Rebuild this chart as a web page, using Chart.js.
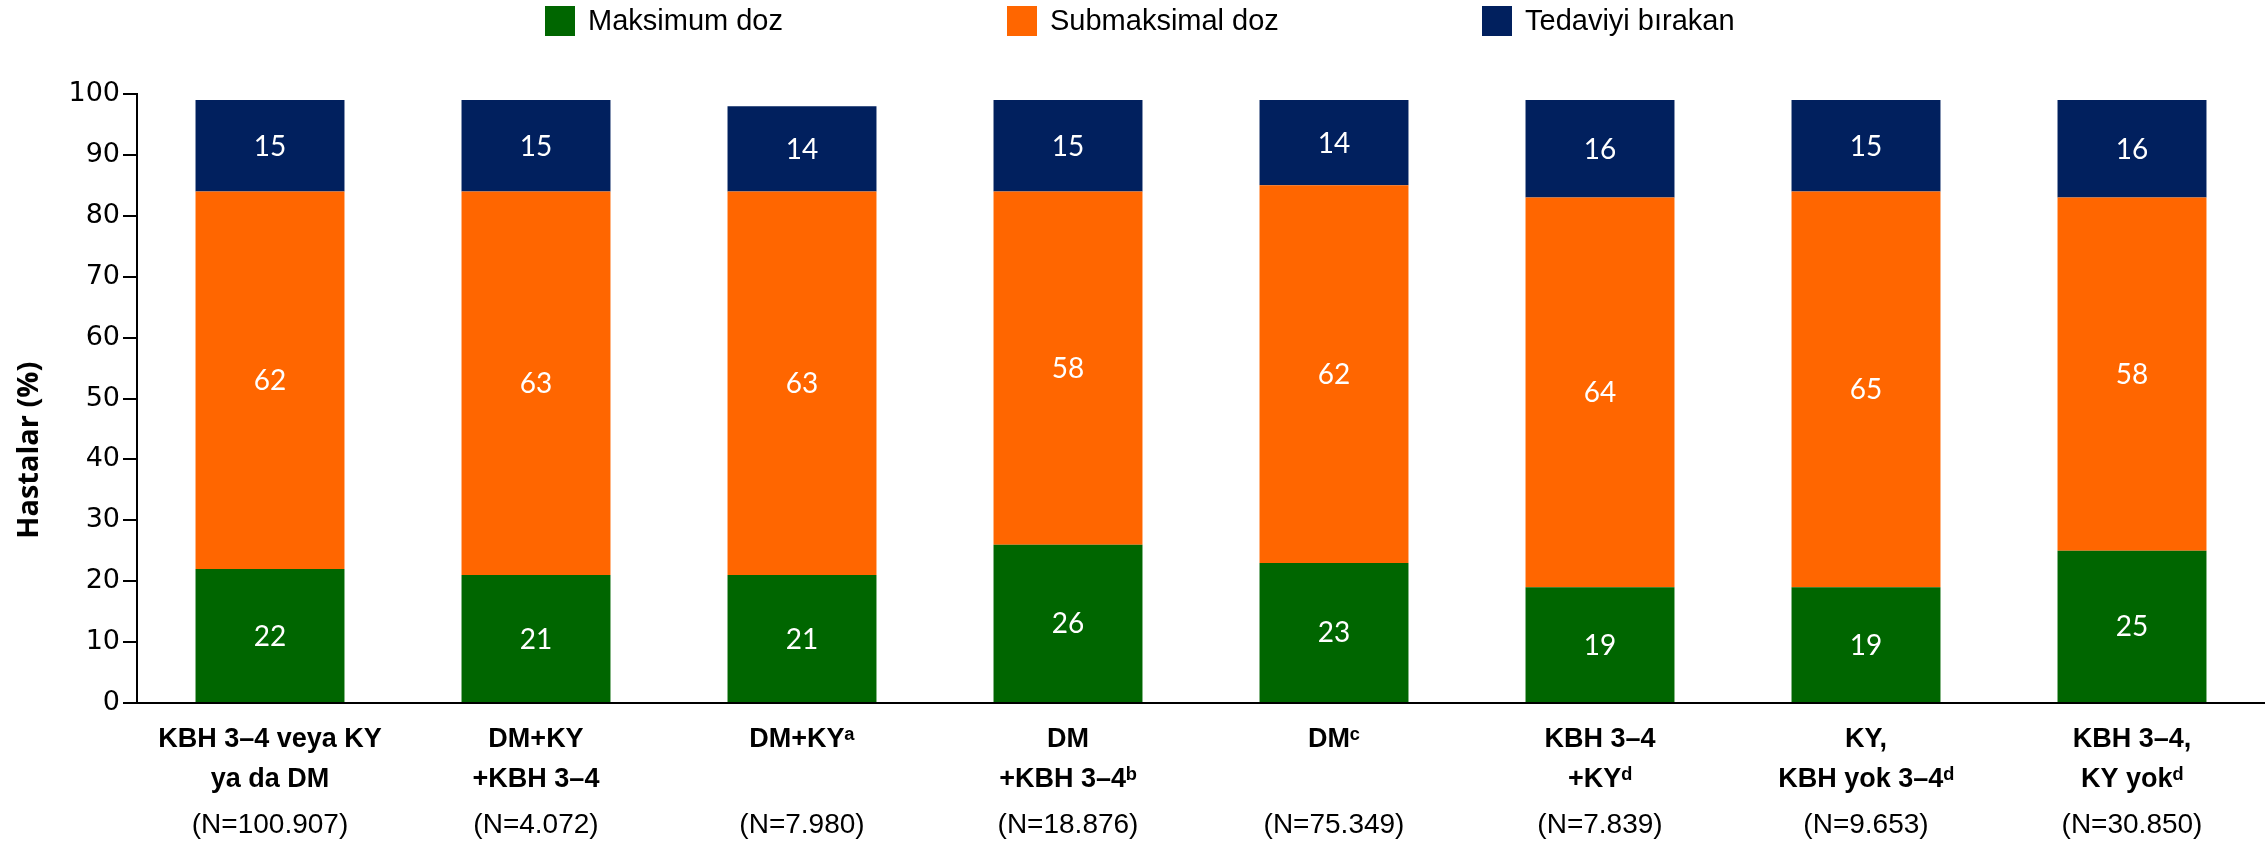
<!DOCTYPE html>
<html>
<head>
<meta charset="utf-8">
<style>
  html, body { margin: 0; padding: 0; background: #ffffff; }
  #wrap { width: 2265px; height: 845px; }
</style>
<script src="https://cdn.jsdelivr.net/npm/chart.js@4.4.1/dist/chart.umd.min.js"></script>
</head>
<body>
<div id="wrap"><canvas id="chart" width="2265" height="845"></canvas></div>
<script>
// Patient groups (x axis), bold lines
const categories = [
  ['KBH 3–4 veya KY', 'ya da DM'],
  ['DM+KY', '+KBH 3–4'],
  ['DM+KYᵃ'],
  ['DM', '+KBH 3–4ᵇ'],
  ['DMᶜ'],
  ['KBH 3–4', '+KYᵈ'],
  ['KY,', 'KBH yok 3–4ᵈ'],
  ['KBH 3–4,', 'KY yokᵈ']
];
// Group sizes shown under each group
const sampleSizes = ['(N=100.907)', '(N=4.072)', '(N=7.980)', '(N=18.876)',
                     '(N=75.349)', '(N=7.839)', '(N=9.653)', '(N=30.850)'];

// Share of patients (%) per dose category
const maxDose      = [22, 21, 21, 26, 23, 19, 19, 25];
const submaxDose   = [62, 63, 63, 58, 62, 64, 65, 58];
const discontinued = [15, 15, 14, 15, 14, 16, 15, 16];

const seriesNames  = ['Maksimum doz', 'Submaksimal doz', 'Tedaviyi bırakan'];
const seriesColors = ['#006600', '#FF6600', '#01205E'];

const yMin = 0, yMax = 100, yStep = 10;
const yTitle = 'Hastalar (%)';

const SANS = "'Liberation Sans', Arial, sans-serif";

// White value labels in the middle of every stacked segment
const segmentLabels = {
  id: 'segmentLabels',
  afterDatasetsDraw(chart) {
    const ctx = chart.ctx;
    ctx.save();
    ctx.fillStyle = '#ffffff';
    ctx.font = "28px Lato, 'Liberation Sans', sans-serif";
    ctx.textAlign = 'center';
    ctx.textBaseline = 'middle';
    chart.data.datasets.forEach((ds, i) => {
      const meta = chart.getDatasetMeta(i);
      meta.data.forEach((bar, j) => {
        const p = bar.getProps(['x', 'y', 'base'], true);
        ctx.fillText(String(ds.data[j]), p.x, (p.y + p.base) / 2 + 1);
      });
    });
    ctx.restore();
  }
};

// Single-row legend across the top, entries spread wide apart
const legendLefts = [545, 1007, 1482];
const topLegend = {
  id: 'topLegend',
  afterDraw(chart) {
    const ctx = chart.ctx;
    const box = 30, textGap = 13, boxTop = 6;
    ctx.save();
    ctx.font = '29px ' + SANS;
    ctx.textBaseline = 'middle';
    ctx.textAlign = 'left';
    chart.data.datasets.forEach((ds, i) => {
      const x = legendLefts[i];
      ctx.fillStyle = ds.backgroundColor;
      ctx.fillRect(x, boxTop, box, box);
      ctx.fillStyle = '#000000';
      ctx.fillText(ds.label, x + box + textGap, boxTop + box / 2 + 1);
    });
    ctx.restore();
  }
};

// Rotated y-axis title, centred a little below the middle of the axis
const yAxisTitle = {
  id: 'yAxisTitle',
  afterDraw(chart) {
    const ctx = chart.ctx;
    const area = chart.chartArea;
    ctx.save();
    ctx.translate(30, area.top + (area.bottom - area.top) * 0.585);
    ctx.rotate(-Math.PI / 2);
    ctx.font = "bold 29px 'Open Sans', sans-serif";
    ctx.fillStyle = '#000000';
    ctx.textAlign = 'center';
    ctx.textBaseline = 'middle';
    ctx.fillText(yTitle, 0, 0);
    ctx.restore();
  }
};

new Chart(document.getElementById('chart'), {
  type: 'bar',
  data: {
    labels: categories,
    datasets: [
      { label: seriesNames[0], data: maxDose,      backgroundColor: seriesColors[0] },
      { label: seriesNames[1], data: submaxDose,   backgroundColor: seriesColors[1] },
      { label: seriesNames[2], data: discontinued, backgroundColor: seriesColors[2] }
    ]
  },
  options: {
    responsive: false,
    animation: false,
    devicePixelRatio: 1,
    layout: { padding: { top: 94, right: 0, bottom: 0, left: 0 } },
    datasets: { bar: { categoryPercentage: 1.0, barPercentage: 0.56, borderWidth: 0 } },
    plugins: {
      legend: { display: false },
      tooltip: { enabled: false }
    },
    scales: {
      x: {
        stacked: true,
        position: 'bottom',
        weight: 0,
        grid: { display: false },
        border: { display: true, color: '#000000', width: 2 },
        ticks: {
          color: '#000000',
          font: { family: SANS, size: 27, weight: 'bold', lineHeight: 1.48 },
          padding: 9,
          maxRotation: 0,
          autoSkip: false
        },
        afterFit(scale) { scale.height = 94; }
      },
      n: {
        type: 'category',
        labels: sampleSizes,
        position: 'bottom',
        weight: 1,
        offset: true,
        grid: { display: false },
        border: { display: false },
        ticks: {
          color: '#000000',
          font: { family: SANS, size: 28, lineHeight: 1.4 },
          padding: 1,
          maxRotation: 0,
          autoSkip: false
        },
        afterFit(scale) { scale.height = 48; }
      },
      y: {
        stacked: true,
        min: yMin,
        max: yMax,
        ticks: {
          stepSize: yStep,
          color: '#000000',
          font: { family: "'DejaVu Sans', sans-serif", size: 27 },
          padding: 3
        },
        grid: {
          display: true,
          drawOnChartArea: false,
          drawTicks: true,
          tickLength: 14,
          color: '#000000',
          lineWidth: 2
        },
        border: { display: true, color: '#000000', width: 2 },
        afterFit(scale) { scale.width = 137; }
      }
    }
  },
  plugins: [segmentLabels, topLegend, yAxisTitle]
});
</script>
</body>
</html>
